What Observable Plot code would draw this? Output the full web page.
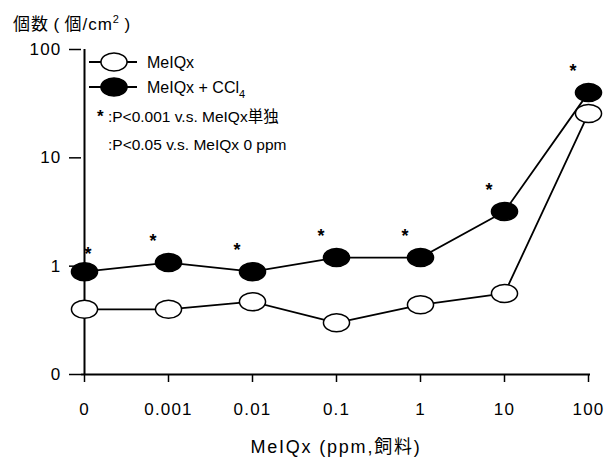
<!DOCTYPE html>
<html>
<head>
<meta charset="utf-8">
<script src="https://cdn.jsdelivr.net/npm/d3@7"></script>
<script src="https://cdn.jsdelivr.net/npm/@observablehq/plot@0.6"></script>
<style>
  html, body { margin: 0; padding: 0; background: #fff; }
  #wrap { position: relative; width: 611px; height: 459px; font-family: "Liberation Sans", Arial, "Noto Sans CJK JP", sans-serif; }
  #title { position: absolute; left: 13px; top: 10px; font-size: 17px; letter-spacing: 1px; color: #000; white-space: nowrap; }
  #title sup { font-size: 11px; vertical-align: 7px; line-height: 0; }
  #legend { position: absolute; left: 0; top: 0; pointer-events: none; }
</style>
</head>
<body>
<div id="wrap">
  <div id="chart"></div>
  <div id="title">個数&thinsp;(&thinsp;個/cm<sup>2</sup>&thinsp;)</div>
</div>
<script>
// ---- data ----
const doses = ["0", "0.001", "0.01", "0.1", "1", "10", "100"];
const melqx = [0.40, 0.40, 0.47, 0.30, 0.44, 0.56, 25.7];
const melqxCCl4 = [0.89, 1.08, 0.89, 1.20, 1.20, 3.2, 40];
const significant = [true, true, true, true, true, true, true];
const yTicks = [0.1, 1, 10, 100];
const yTickLabels = ["0", "1", "10", "100"];
const seriesNames = ["MeIQx", "MeIQx + CCl4"];
const legendNotes = ["* :P<0.001 v.s. MeIQx単独", ":P<0.05 v.s. MeIQx 0 ppm"];
const xTitle = "MeIQx (ppm,飼料)";

const open = doses.map((d, i) => ({dose: d, value: melqx[i]}));
const filled = doses.map((d, i) => ({dose: d, value: melqxCCl4[i]}));
const stars = filled.filter((d, i) => significant[i]);

// ellipse symbol
const ellipse = {
  draw(context, size) {
    const r = Math.sqrt(size / Math.PI);
    const rx = r * 1.45, ry = r;
    const k = 0.5523;
    context.moveTo(rx, 0);
    context.bezierCurveTo(rx, ry * k, rx * k, ry, 0, ry);
    context.bezierCurveTo(-rx * k, ry, -rx, ry * k, -rx, 0);
    context.bezierCurveTo(-rx, -ry * k, -rx * k, -ry, 0, -ry);
    context.bezierCurveTo(rx * k, -ry, rx, -ry * k, rx, 0);
    context.closePath();
  }
};

const fontFamily = '"Liberation Sans", Arial, "Noto Sans CJK JP", sans-serif';

const chart = Plot.plot({
  width: 611,
  height: 459,
  marginLeft: 81,
  marginRight: 21,
  marginTop: 49,
  marginBottom: 85,
  style: {fontFamily, fontSize: "17px", letterSpacing: "1.2px", color: "#000", background: "#fff", overflow: "visible"},
  x: {type: "point", domain: doses, padding: 0},
  y: {type: "log", domain: [0.1, 100]},
  marks: [
    Plot.axisX({
      tickSize: 8, tickPadding: 20, stroke: "#000", strokeWidth: 1.5,
      label: xTitle, labelAnchor: "center", labelOffset: 78, labelArrow: "none"
    }),
    Plot.axisY({
      ticks: yTicks, tickSize: 12, tickPadding: 8, stroke: "#000", strokeWidth: 1.5,
      tickFormat: (d) => yTickLabels[yTicks.indexOf(d)], label: null
    }),
    Plot.ruleY([0.1], {stroke: "#000", strokeWidth: 2}),
    Plot.ruleX([doses[0]], {stroke: "#000", strokeWidth: 2}),
    Plot.line(open, {x: "dose", y: "value", stroke: "#000", strokeWidth: 1.8}),
    Plot.line(filled, {x: "dose", y: "value", stroke: "#000", strokeWidth: 1.8}),
    Plot.dot(open, {x: "dose", y: "value", symbol: ellipse, r: 9, fill: "#fff", stroke: "#000", strokeWidth: 1.5}),
    Plot.dot(filled, {x: "dose", y: "value", symbol: ellipse, r: 9, fill: "#000", stroke: "#000", strokeWidth: 1.5}),
    Plot.text(stars.slice(0, 1), {x: "dose", y: "value", text: () => "*", dx: 4, dy: -17, fontSize: 18, fontWeight: "bold"}),
    Plot.text(stars.slice(1), {x: "dose", y: "value", text: () => "*", dx: -15, dy: -21, fontSize: 18, fontWeight: "bold"})
  ]
});
document.getElementById("chart").appendChild(chart);
d3.select(chart).selectAll('[aria-label="x-axis label"]').style("font-size", "18px").style("letter-spacing", "1.8px");

// legend overlay
const leg = d3.select("#wrap").append("svg")
  .attr("id", "legend").attr("width", 611).attr("height", 459)
  .style("font-family", fontFamily).style("font-size", "16px");
const sym = d3.symbol(ellipse, 81 * Math.PI)();
[0, 1].forEach((i) => {
  const y = 62 + i * 25;
  const g = leg.append("g");
  g.append("line").attr("x1", 89).attr("x2", 137).attr("y1", y).attr("y2", y).attr("stroke", "#000").attr("stroke-width", 1.8);
  g.append("path").attr("d", sym).attr("transform", `translate(114,${y})`)
    .attr("fill", i === 0 ? "#fff" : "#000").attr("stroke", "#000").attr("stroke-width", 1.5);
  const t = g.append("text").attr("x", 147).attr("y", y).attr("dy", "0.35em");
  if (i === 0) {
    t.text(seriesNames[0]);
  } else {
    t.text(seriesNames[1].slice(0, -1));
    t.append("tspan").attr("font-size", "11px").attr("dy", "5").text(seriesNames[1].slice(-1));
  }
});
const note = leg.append("text").attr("x", 97).attr("y", 117).attr("dy", "0.35em").attr("font-size", "15.5px");
note.append("tspan").attr("font-weight", "bold").attr("font-size", "17px").text(legendNotes[0].slice(0, 1));
note.append("tspan").text(legendNotes[0].slice(1));
leg.append("text").attr("x", 108).attr("y", 145).attr("dy", "0.35em").attr("font-size", "15.5px").text(legendNotes[1]);
</script>
</body>
</html>
